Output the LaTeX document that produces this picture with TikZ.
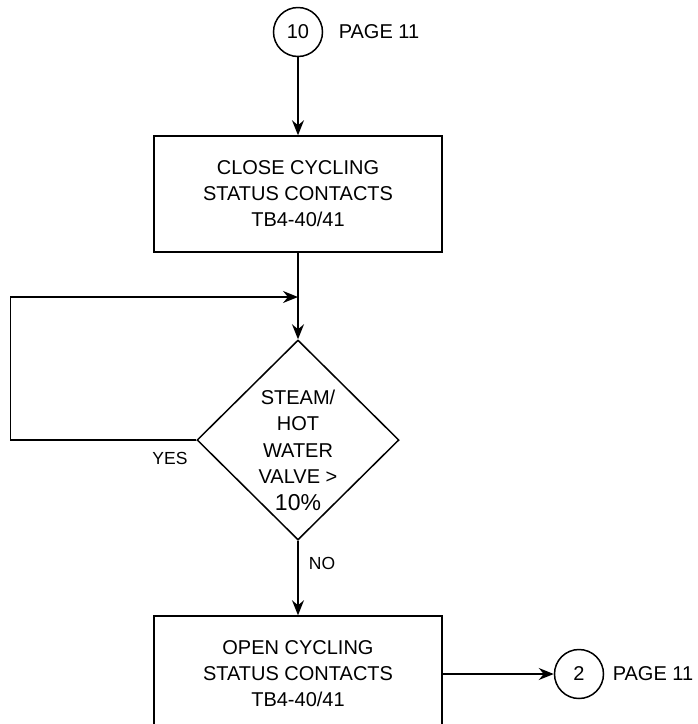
\documentclass[tikz,border=0pt]{standalone}
\usepackage{fontspec}
\setmainfont{Liberation Sans}
\usetikzlibrary{shapes.geometric,arrows.meta}
\begin{document}
\begin{tikzpicture}[x=1pt,y=-1pt,
  line width=1.5pt,
  arr/.style={-{Stealth[length=15pt,width=12pt,inset=5pt]}},
  proc/.style={draw, rectangle, minimum width=288pt, minimum height=116pt, align=center, font=\fontsize{20}{26}\selectfont, inner sep=0pt},
  conn/.style={draw, circle, minimum size=49pt, inner sep=0pt, font=\fontsize{20}{24}\selectfont},
  lbl/.style={font=\fontsize{20}{24}\selectfont, inner sep=0pt},
  small/.style={font=\fontsize{17.5}{20}\selectfont, inner sep=0pt},
  dec/.style={draw, diamond, minimum width=202pt, minimum height=200pt, inner sep=0pt},
  dtxt/.style={align=center, inner sep=0pt, font=\fontsize{20}{26.5}\selectfont}
]
\useasboundingbox (0,0) rectangle (698,724);
\clip (0,0) rectangle (698,724);

\node[conn] (c10) at (298,32) {10};
\node[lbl, anchor=west] (p1) at (338,32) {PAGE 11};

\node[proc] (b1) at (298,194) {CLOSE CYCLING\\STATUS CONTACTS\\TB4-40/41};

\coordinate (m) at (298,297);

\node[dec] (d) at (298,440) {};
\node[dtxt] (dt) at (298,450) {STEAM/\\HOT\\WATER\\VALVE >\\{\fontsize{23}{26.5}\selectfont 10\%}};

\node[small] (yes) at (170,458) {YES};
\node[small] (no) at (322,563) {NO};

\node[proc] (b2) at (298,674) {OPEN CYCLING\\STATUS CONTACTS\\TB4-40/41};

\node[conn] (c2) at (579,674) {2};
\node[lbl, anchor=west] (p2) at (612,674) {PAGE 11};

\draw[arr] (c10) -- (b1);
\draw[arr] (b1) -- (d.north);
\draw[arr] (d.west) -- ++(-186,0) |- (m);
\draw[arr] (d.south) -- (b2);
\draw[arr] (b2) -- (c2);
\end{tikzpicture}
\end{document}
